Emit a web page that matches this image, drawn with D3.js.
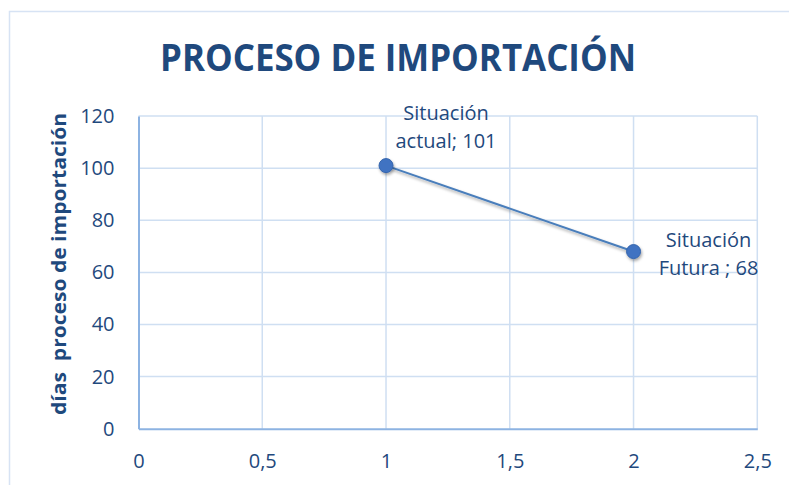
<!DOCTYPE html>
<html>
<head>
<meta charset="utf-8">
<script src="https://cdn.jsdelivr.net/npm/d3@7"></script>
<style>
  body { margin: 0; background: #fff; }
  svg { display: block; }
  text { font-family: 'Open Sans', sans-serif; fill: #1f497d; }
</style>
</head>
<body>
<svg id="canvas" width="789" height="485"></svg>
<script>
// chart data
let xValues = [1, 2]
let yValues = [101, 68]
let pointNames = [['Situación', 'actual; 101'], ['Situación', 'Futura ; 68']]
let xTicks = [0, 0.5, 1, 1.5, 2, 2.5]
let yTicks = [0, 20, 40, 60, 80, 100, 120]
let title = 'PROCESO DE IMPORTACIÓN'
let yTitle = 'días  proceso de importación'

let canvas = d3.select('#canvas')

let plotLeft = 138.5, plotRight = 757.3, plotTop = 116.1, plotBottom = 428.7

let xScale = d3.scaleLinear().domain([0, 2.5]).range([plotLeft, plotRight])
let yScale = d3.scaleLinear().domain([0, 120]).range([plotBottom, plotTop])

let fmt = d => String(d).replace('.', ',')

// outer frame (top and left edges only visible)
canvas.append('path')
      .attr('d', 'M9.5,485 L9.5,11.5 L789,11.5')
      .attr('fill', 'none')
      .attr('stroke', '#d7e3f4')
      .attr('stroke-width', 1.5)

let defs = canvas.append('defs')
let shadow = defs.append('filter').attr('id', 'shadow')
                 .attr('x', '-50%').attr('y', '-50%').attr('width', '200%').attr('height', '200%')
shadow.append('feDropShadow')
      .attr('dx', 1).attr('dy', 2).attr('stdDeviation', 1.6)
      .attr('flood-color', '#000').attr('flood-opacity', 0.35)

// gridlines
canvas.append('g')
      .selectAll('line')
      .data(yTicks.filter(d => d > 0))
      .enter()
      .append('line')
      .attr('x1', plotLeft).attr('x2', plotRight)
      .attr('y1', d => yScale(d)).attr('y2', d => yScale(d))
      .attr('stroke', '#cfdff2')
      .attr('stroke-width', 1.5)

canvas.append('g')
      .selectAll('line')
      .data(xTicks.filter(d => d > 0))
      .enter()
      .append('line')
      .attr('y1', plotTop).attr('y2', plotBottom)
      .attr('x1', d => xScale(d)).attr('x2', d => xScale(d))
      .attr('stroke', '#cfdff2')
      .attr('stroke-width', 1.5)

// axes
let xAxis = d3.axisBottom(xScale).tickValues(xTicks).tickFormat(fmt).tickSize(0).tickPadding(25)
let yAxis = d3.axisLeft(yScale).tickValues(yTicks).tickFormat(d => d).tickSize(0).tickPadding(24)

let gx = canvas.append('g').attr('transform', `translate(0,${plotBottom})`).call(xAxis)
let gy = canvas.append('g').attr('transform', `translate(${plotLeft},0)`).call(yAxis)

;[gx, gy].forEach(g => {
  g.select('.domain').attr('stroke', '#8db3e2').attr('stroke-width', 2)
  g.selectAll('text')
   .attr('fill', '#1f497d')
   .style('font-family', "'Open Sans', sans-serif")
   .style('font-size', '20px')
})
gx.selectAll('text').attr('dy', '0.71em')

// title
canvas.append('text')
      .attr('x', 398)
      .attr('y', 71)
      .attr('text-anchor', 'middle')
      .attr('textLength', 476)
      .attr('lengthAdjust', 'spacingAndGlyphs')
      .style('font-weight', 'bold')
      .style('font-size', '38px')
      .text(title)

// y axis title
canvas.append('text')
      .attr('transform', 'translate(66,264) rotate(-90)')
      .attr('text-anchor', 'middle')
      .style('font-weight', 'bold')
      .style('font-size', '20px')
      .style('white-space', 'pre')
      .attr('textLength', 302)
      .attr('lengthAdjust', 'spacingAndGlyphs')
      .text(yTitle)

// series
let points = xValues.map((x, i) => ({ x: x, y: yValues[i], name: pointNames[i] }))

let line = d3.line().x(d => xScale(d.x)).y(d => yScale(d.y))

canvas.append('path')
      .datum(points)
      .attr('d', line)
      .attr('fill', 'none')
      .attr('stroke', '#4a7ebb')
      .attr('stroke-width', 2)
      .attr('filter', 'url(#shadow)')

canvas.selectAll('circle')
      .data(points)
      .enter()
      .append('circle')
      .attr('cx', d => xScale(d.x))
      .attr('cy', d => yScale(d.y))
      .attr('r', 7)
      .attr('fill', '#3f73c2')
      .attr('stroke', '#3565ad')
      .attr('stroke-width', 1)
      .attr('filter', 'url(#shadow)')

// data labels
let labelPos = [{ dx: 60, dy: -46 }, { dx: 75, dy: -5 }]

let labels = canvas.selectAll('.label')
      .data(points)
      .enter()
      .append('text')
      .attr('class', 'label')
      .attr('text-anchor', 'middle')
      .style('font-size', '20px')

labels.each(function (d, i) {
  let t = d3.select(this)
  let cx = xScale(d.x) + labelPos[i].dx
  let cy = yScale(d.y) + labelPos[i].dy
  d.name.forEach((s, j) => {
    t.append('tspan')
     .attr('x', cx)
     .attr('y', cy + j * 28)
     .text(s)
  })
})
</script>
</body>
</html>
